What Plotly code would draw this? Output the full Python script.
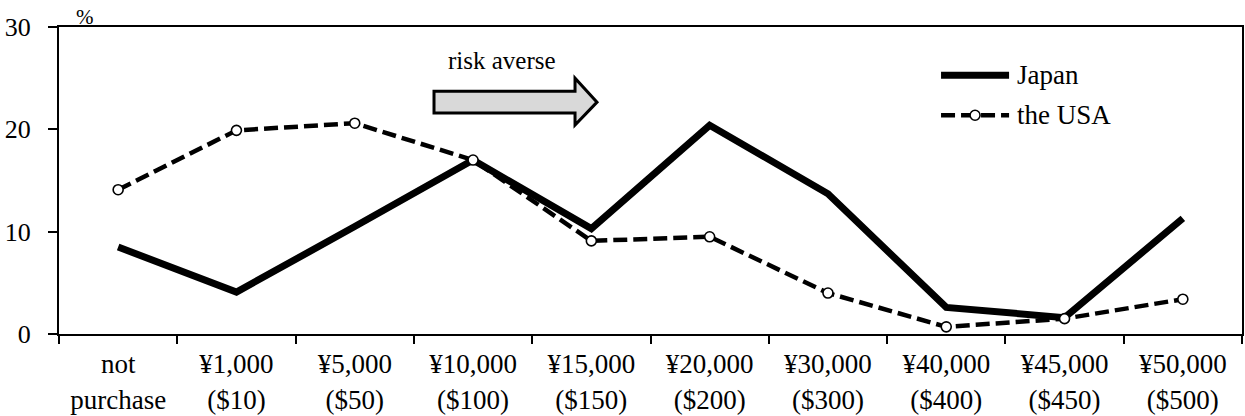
import plotly.graph_objects as go

# Price categories (yen with dollar equivalents)
categories = ["not<br>purchase", "¥1,000<br>($10)", "¥5,000<br>($50)", "¥10,000<br>($100)",
              "¥15,000<br>($150)", "¥20,000<br>($200)", "¥30,000<br>($300)", "¥40,000<br>($400)",
              "¥45,000<br>($450)", "¥50,000<br>($500)"]

# Share of respondents (%)
japan = [8.5, 4.1, 10.5, 17.0, 10.3, 20.4, 13.7, 2.6, 1.6, 11.3]
usa = [14.1, 19.9, 20.6, 17.0, 9.1, 9.5, 4.0, 0.7, 1.5, 3.4]

y_ticks = [0, 10, 20, 30]

FONT = "'Liberation Serif', 'DejaVu Serif', serif"
DASH = "14px,6px"
JP_WIDTH = 7
US_WIDTH = 4.5

fig = go.Figure()

fig.add_trace(go.Scatter(
    x=categories, y=japan, name="Japan", mode="lines",
    line=dict(color="black", width=JP_WIDTH),
))
fig.add_trace(go.Scatter(
    x=categories, y=usa, name="the USA", mode="lines+markers",
    line=dict(color="black", width=US_WIDTH, dash=DASH),
    marker=dict(symbol="circle", size=10, color="white",
                line=dict(color="black", width=1.6)),
))

shapes = []

# "risk averse" block arrow
ax = dict(l=0.3170, b=0.4362, t=0.4548)
ay = dict(st=0.791, sb=0.7195, ht=0.8333, hb=0.6805, tip=0.7552)
arrow_path = (f"M{ax['l']},{ay['st']} L{ax['b']},{ay['st']} L{ax['b']},{ay['ht']} "
              f"L{ax['t']},{ay['tip']} L{ax['b']},{ay['hb']} L{ax['b']},{ay['sb']} "
              f"L{ax['l']},{ay['sb']} Z")
shapes.append(dict(type="path", xref="paper", yref="paper", path=arrow_path,
                   fillcolor="#d9d9d9", line=dict(color="black", width=3)))

# Legend keys
lx0, lx1, ltext = 0.7456, 0.8031, 0.8081
ly_jp, ly_us = 0.843, 0.7126
shapes.append(dict(type="line", xref="paper", yref="paper",
                   x0=lx0, x1=lx1, y0=ly_jp, y1=ly_jp,
                   line=dict(color="black", width=JP_WIDTH)))
shapes.append(dict(type="line", xref="paper", yref="paper",
                   x0=lx0, x1=lx1, y0=ly_us, y1=ly_us,
                   line=dict(color="black", width=US_WIDTH, dash=DASH)))
shapes.append(dict(type="circle", xref="paper", yref="paper",
                   xsizemode="pixel", ysizemode="pixel",
                   xanchor=(lx0 + lx1) / 2, yanchor=ly_us,
                   x0=-5, x1=5, y0=-5, y1=5,
                   fillcolor="white", line=dict(color="black", width=1.6)))

annotations = [
    dict(text="risk averse", xref="paper", yref="paper", x=0.3745, y=0.89,
         showarrow=False, font=dict(family=FONT, size=25, color="black"),
         xanchor="center", yanchor="middle"),
    dict(text="%", xref="paper", yref="paper", x=0.022, y=1.0315,
         showarrow=False, font=dict(family=FONT, size=21, color="black"),
         xanchor="center", yanchor="middle"),
    dict(text="Japan", xref="paper", yref="paper", x=ltext, y=ly_jp,
         showarrow=False, font=dict(family=FONT, size=27, color="black"),
         xanchor="left", yanchor="middle"),
    dict(text="the USA", xref="paper", yref="paper", x=ltext, y=ly_us,
         showarrow=False, font=dict(family=FONT, size=27, color="black"),
         xanchor="left", yanchor="middle"),
]

fig.update_layout(
    width=1245, height=416,
    margin=dict(l=59, r=3, t=27, b=82),
    paper_bgcolor="white", plot_bgcolor="white",
    showlegend=False,
    font=dict(family=FONT, size=26, color="black"),
    shapes=shapes,
    annotations=annotations,
)

fig.update_xaxes(
    type="category", range=[-0.5, len(categories) - 0.5],
    tickson="boundaries", ticks="outside", ticklen=8,
    tickwidth=2, tickcolor="black", ticklabelstandoff=5, automargin=False,
    showline=True, linecolor="black", linewidth=2, mirror=True,
    showgrid=False, zeroline=False,
    tickfont=dict(family=FONT, size=27, color="black"),
)
fig.update_yaxes(
    range=[0, 30], tickvals=y_ticks, ticks="outside", ticklen=9,
    tickwidth=2, tickcolor="black", ticklabelstandoff=12, automargin=False,
    showline=True, linecolor="black", linewidth=2, mirror=True,
    showgrid=False, zeroline=False,
    tickfont=dict(family=FONT, size=26, color="black"),
)

fig.write_html("out.html")
